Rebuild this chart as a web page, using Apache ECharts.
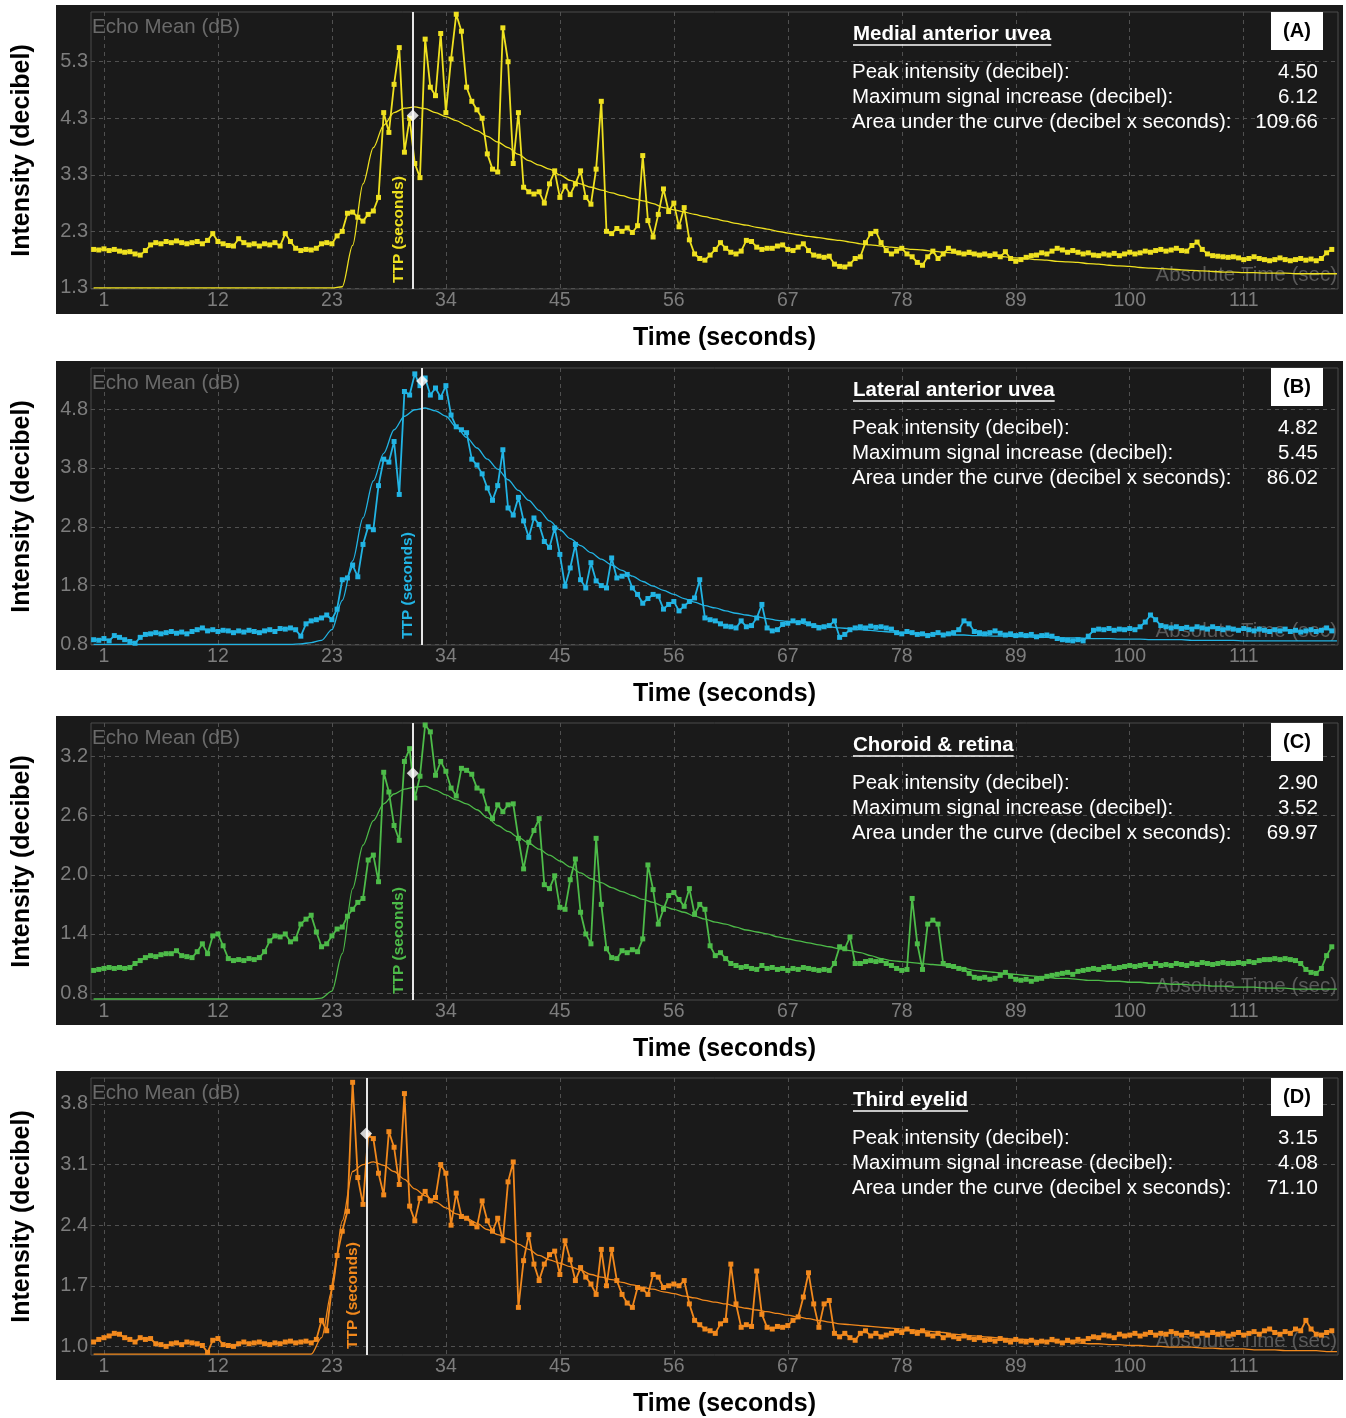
<!DOCTYPE html>
<html>
<head>
<meta charset="utf-8">
<title>Echo mean time-intensity curves</title>
<script src="https://cdn.jsdelivr.net/npm/echarts@6/dist/echarts.min.js"></script>
<style>
  html, body { margin: 0; padding: 0; background: #ffffff; }
  #chart { width: 1346px; height: 1418px; }
</style>
</head>
<body>
<div id="chart"></div>
<script>
// echo mean readings, one value every 0.5 s starting at t = 0
const SAMPLE_STEP = 0.5
// fitted curves, one value every 1 s starting at t = 0
const FIT_STEP = 1

const xTickValues = [1, 12, 23, 34, 45, 56, 67, 78, 89, 100, 111]

const medialData = [
  1.98,1.97,1.99,1.96,1.98,1.95,1.93,1.94,1.90,1.88,1.96,2.06,2.10,2.08,2.12,2.10,2.13,2.10,2.08,2.10,
  2.12,2.08,2.14,2.26,2.12,2.08,2.05,2.04,2.17,2.10,2.06,2.08,2.04,2.08,2.06,2.10,2.04,2.26,2.12,2.00,
  1.96,1.98,1.97,2.00,2.08,2.10,2.08,2.22,2.30,2.62,2.64,2.55,2.48,2.60,2.66,2.90,4.40,4.05,4.90,5.55,
  3.70,4.30,3.50,3.25,5.70,4.85,4.70,5.80,4.40,5.35,6.14,5.84,4.85,4.60,4.45,4.30,3.67,3.40,3.35,5.90,
  5.30,3.50,4.40,3.08,3.00,2.96,3.00,2.80,3.14,3.37,2.90,3.10,2.95,3.14,3.37,2.90,2.78,3.40,4.60,2.30,
  2.26,2.35,2.30,2.36,2.28,2.40,3.64,2.49,2.20,2.60,3.05,2.65,2.80,2.38,2.72,2.15,1.90,1.82,1.79,1.88,
  1.98,2.10,2.00,1.93,1.90,1.95,2.14,2.12,2.02,1.98,2.00,2.00,2.04,2.06,1.98,1.96,2.02,2.08,1.96,1.88,
  1.86,1.84,1.86,1.72,1.68,1.67,1.72,1.82,1.85,2.10,2.26,2.30,2.10,1.96,1.90,1.95,2.00,1.90,1.85,1.75,
  1.70,1.85,1.95,1.82,1.90,2.00,1.95,1.92,1.90,1.93,1.90,1.88,1.90,1.87,1.90,1.85,1.94,1.82,1.77,1.80,
  1.84,1.87,1.88,1.92,1.90,1.95,2.00,1.97,1.93,1.96,1.93,1.90,1.92,1.88,1.87,1.90,1.88,1.91,1.87,1.90,
  1.93,1.90,1.92,1.95,1.93,1.96,1.98,1.95,1.97,2.00,1.96,1.95,2.05,2.11,1.98,1.90,1.87,1.86,1.85,1.84,
  1.85,1.83,1.80,1.82,1.85,1.82,1.80,1.78,1.80,1.83,1.80,1.78,1.80,1.82,1.79,1.81,1.78,1.82,1.92,1.98
]
const medialFit = [
  1.30,1.30,1.30,1.30,1.30,1.30,1.30,1.30,1.30,1.30,
  1.30,1.30,1.30,1.30,1.30,1.30,1.30,1.30,1.30,1.30,
  1.30,1.30,1.30,1.30,1.32,2.05,3.14,3.78,4.18,4.40,
  4.48,4.50,4.47,4.40,4.33,4.26,4.17,4.08,3.98,3.88,
  3.78,3.66,3.55,3.47,3.40,3.30,3.20,3.14,3.08,3.03,
  2.98,2.93,2.88,2.84,2.79,2.72,2.68,2.64,2.60,2.56,
  2.52,2.48,2.44,2.41,2.37,2.34,2.30,2.27,2.24,2.21,
  2.19,2.16,2.14,2.11,2.08,2.06,2.04,2.02,2.00,1.98,
  1.97,1.95,1.93,1.92,1.90,1.89,1.87,1.86,1.85,1.83,
  1.82,1.80,1.79,1.77,1.76,1.75,1.73,1.72,1.70,1.69,
  1.68,1.66,1.65,1.64,1.63,1.62,1.61,1.60,1.59,1.58,
  1.58,1.57,1.57,1.56,1.56,1.56,1.55,1.55,1.55,1.55,
  1.55
]

const lateralData = [
  0.88,0.87,0.90,0.86,0.95,0.92,0.88,0.85,0.82,0.92,0.97,0.98,1.00,0.98,1.00,1.02,0.99,1.01,0.98,1.02,
  1.05,1.08,1.03,1.05,1.02,1.04,1.03,1.00,1.03,1.01,1.04,1.02,1.00,1.03,1.05,1.02,1.07,1.06,1.08,1.05,
  0.94,1.15,1.20,1.22,1.25,1.30,1.22,1.40,1.90,1.93,2.15,1.95,2.50,2.80,2.75,3.50,3.95,3.90,4.25,3.35,
  5.10,5.04,5.40,5.20,5.33,5.04,5.16,5.00,5.20,4.70,4.50,4.45,4.40,3.95,3.85,3.70,3.46,3.25,3.50,4.11,
  3.12,3.00,3.30,2.90,2.62,2.95,2.84,2.55,2.45,2.78,2.33,1.79,2.10,2.50,1.90,1.76,2.19,1.88,1.80,1.76,
  2.27,1.93,1.96,1.99,1.76,1.65,1.50,1.58,1.65,1.62,1.40,1.48,1.53,1.37,1.45,1.53,1.59,1.90,1.25,1.22,
  1.20,1.15,1.11,1.10,1.08,1.20,1.10,1.12,1.25,1.48,1.08,1.03,1.05,1.14,1.16,1.20,1.17,1.20,1.15,1.12,
  1.08,1.10,1.12,1.20,0.92,0.97,1.05,1.08,1.10,1.08,1.11,1.09,1.10,1.08,1.06,1.00,0.98,1.02,1.00,0.97,
  0.98,0.95,0.97,1.00,0.96,0.98,1.00,1.05,1.20,1.15,1.02,1.00,0.98,1.00,1.03,0.99,0.96,0.98,0.95,0.97,
  0.95,0.97,0.93,0.95,0.96,0.94,0.90,0.88,0.87,0.86,0.88,0.86,0.94,1.04,1.06,1.05,1.07,1.04,1.06,1.05,
  1.07,1.05,1.10,1.18,1.30,1.22,1.12,1.10,1.08,1.10,1.07,1.09,1.06,1.10,1.08,1.06,1.10,1.07,1.05,1.08,
  1.06,1.04,1.07,1.05,1.03,1.06,1.04,1.02,1.05,1.03,1.06,1.02,1.04,1.01,1.03,1.05,1.02,1.04,1.08,1.03
]
const lateralFit = [
  0.80,0.80,0.80,0.80,0.80,0.80,0.80,0.80,0.80,0.80,
  0.80,0.80,0.80,0.80,0.80,0.80,0.80,0.80,0.80,0.80,
  0.81,0.83,0.87,1.05,1.55,2.22,2.95,3.58,4.05,4.45,
  4.68,4.79,4.82,4.77,4.68,4.50,4.32,4.14,3.95,3.78,
  3.60,3.42,3.25,3.08,2.90,2.75,2.60,2.48,2.36,2.25,
  2.15,2.06,1.96,1.87,1.79,1.72,1.65,1.58,1.52,1.46,
  1.42,1.37,1.33,1.30,1.27,1.24,1.21,1.19,1.17,1.14,
  1.12,1.10,1.08,1.07,1.05,1.04,1.02,1.01,1.00,0.99,
  0.98,0.97,0.97,0.96,0.96,0.95,0.95,0.94,0.94,0.93,
  0.93,0.92,0.92,0.91,0.91,0.91,0.90,0.90,0.90,0.89,
  0.89,0.89,0.88,0.88,0.88,0.88,0.87,0.87,0.87,0.87,
  0.87,0.86,0.86,0.86,0.86,0.86,0.86,0.86,0.86,0.86,
  0.86
]

const choroidData = [
  1.03,1.04,1.05,1.06,1.05,1.06,1.05,1.06,1.10,1.13,1.16,1.18,1.17,1.19,1.20,1.20,1.23,1.18,1.17,1.16,
  1.22,1.30,1.20,1.38,1.40,1.28,1.15,1.13,1.14,1.13,1.15,1.14,1.16,1.22,1.33,1.38,1.37,1.40,1.32,1.35,
  1.50,1.55,1.59,1.42,1.27,1.30,1.38,1.45,1.47,1.58,1.65,1.72,1.76,2.15,2.20,1.93,3.04,2.84,2.50,2.35,
  3.15,3.28,2.78,3.00,3.52,3.45,3.01,3.15,3.05,2.88,2.80,3.08,3.06,3.02,2.88,2.85,2.67,2.57,2.71,2.64,
  2.71,2.72,2.37,2.06,2.33,2.45,2.57,1.90,1.86,1.99,1.67,1.65,1.95,2.16,1.62,1.40,1.30,2.37,1.70,1.25,
  1.16,1.15,1.23,1.21,1.24,1.22,1.35,2.10,1.85,1.50,1.65,1.79,1.82,1.75,1.68,1.86,1.60,1.70,1.65,1.28,
  1.18,1.21,1.15,1.10,1.08,1.06,1.07,1.05,1.04,1.08,1.05,1.06,1.04,1.05,1.03,1.05,1.04,1.06,1.05,1.04,
  1.03,1.04,1.03,1.10,1.27,1.25,1.37,1.10,1.10,1.12,1.13,1.12,1.13,1.10,1.08,1.05,1.03,1.04,1.76,1.30,
  1.04,1.50,1.54,1.50,1.10,1.08,1.07,1.05,1.04,1.00,0.96,0.95,0.96,0.94,0.95,0.98,1.01,0.97,0.94,0.93,
  0.94,0.92,0.94,0.95,0.97,0.98,0.99,1.00,1.01,0.99,1.02,1.03,1.04,1.05,1.04,1.06,1.07,1.05,1.06,1.07,
  1.08,1.07,1.08,1.09,1.07,1.10,1.08,1.09,1.08,1.10,1.09,1.08,1.10,1.09,1.11,1.10,1.09,1.10,1.11,1.10,
  1.10,1.11,1.10,1.12,1.11,1.13,1.14,1.14,1.15,1.14,1.15,1.14,1.13,1.10,1.04,1.01,1.00,1.05,1.18,1.27
]
const choroidFit = [
  0.74,0.74,0.74,0.74,0.74,0.74,0.74,0.74,0.74,0.74,
  0.74,0.74,0.74,0.74,0.74,0.74,0.74,0.74,0.74,0.74,
  0.74,0.74,0.75,0.82,1.20,1.86,2.30,2.55,2.72,2.82,
  2.87,2.89,2.90,2.86,2.81,2.76,2.72,2.66,2.58,2.50,
  2.44,2.38,2.32,2.26,2.20,2.14,2.08,2.02,1.96,1.92,
  1.87,1.83,1.79,1.75,1.72,1.68,1.65,1.62,1.58,1.55,
  1.52,1.50,1.47,1.44,1.42,1.40,1.37,1.35,1.33,1.31,
  1.29,1.27,1.25,1.23,1.21,1.18,1.15,1.13,1.12,1.11,
  1.10,1.09,1.08,1.06,1.05,1.03,1.02,1.01,1.00,0.99,
  0.98,0.97,0.96,0.95,0.95,0.94,0.93,0.93,0.92,0.92,
  0.91,0.91,0.90,0.90,0.89,0.89,0.88,0.88,0.87,0.87,
  0.86,0.86,0.86,0.85,0.85,0.85,0.84,0.84,0.84,0.84,
  0.84
]

const eyelidData = [
  1.05,1.08,1.10,1.12,1.15,1.14,1.10,1.08,1.05,1.10,1.08,1.09,1.03,1.02,1.00,1.03,1.04,1.02,1.05,1.04,
  1.03,1.01,0.93,1.07,1.09,1.02,1.01,1.00,1.03,1.05,1.03,1.04,1.05,1.03,1.02,1.04,1.03,1.05,1.06,1.04,
  1.05,1.06,1.04,1.08,1.30,1.18,1.68,2.05,2.33,2.56,4.05,2.95,2.64,3.44,3.40,3.00,2.75,3.48,3.30,2.87,
  3.92,2.62,2.45,2.71,2.79,2.68,2.72,3.10,3.00,2.40,2.77,2.50,2.48,2.42,2.38,2.68,2.45,2.33,2.48,2.22,
  2.90,3.13,1.45,1.99,2.29,1.95,1.76,1.95,2.06,2.10,1.83,2.22,2.00,1.76,1.91,1.80,1.72,1.60,2.12,1.70,
  2.12,1.76,1.60,1.50,1.45,1.68,1.66,1.60,1.83,1.80,1.68,1.70,1.72,1.70,1.76,1.49,1.30,1.25,1.20,1.18,
  1.15,1.26,1.30,1.95,1.49,1.22,1.25,1.23,1.87,1.37,1.22,1.20,1.23,1.22,1.24,1.30,1.34,1.57,1.85,1.49,
  1.22,1.49,1.53,1.15,1.11,1.15,1.10,1.07,1.15,1.18,1.12,1.15,1.11,1.13,1.15,1.18,1.16,1.20,1.17,1.15,
  1.18,1.14,1.12,1.15,1.10,1.13,1.11,1.09,1.12,1.10,1.08,1.10,1.07,1.08,1.06,1.09,1.07,1.05,1.08,1.06,
  1.05,1.07,1.04,1.06,1.05,1.08,1.06,1.04,1.07,1.05,1.08,1.06,1.09,1.11,1.10,1.13,1.12,1.10,1.14,1.12,
  1.13,1.15,1.12,1.14,1.16,1.13,1.15,1.14,1.17,1.15,1.13,1.16,1.14,1.12,1.15,1.13,1.16,1.14,1.15,1.12,
  1.14,1.16,1.13,1.15,1.17,1.14,1.18,1.20,1.16,1.14,1.17,1.15,1.20,1.18,1.30,1.20,1.14,1.13,1.16,1.18
]
const eyelidFit = [
  0.91,0.91,0.91,0.91,0.91,0.91,0.91,0.91,0.91,0.91,
  0.91,0.91,0.91,0.91,0.91,0.91,0.91,0.91,0.91,0.91,
  0.91,0.91,1.10,1.65,2.45,3.02,3.10,3.13,3.09,3.02,
  2.93,2.82,2.74,2.67,2.60,2.53,2.48,2.42,2.35,2.29,
  2.24,2.18,2.12,2.05,2.00,1.96,1.92,1.88,1.83,1.80,
  1.77,1.74,1.71,1.68,1.66,1.63,1.61,1.58,1.56,1.53,
  1.51,1.49,1.46,1.44,1.42,1.40,1.38,1.36,1.34,1.32,
  1.30,1.28,1.26,1.25,1.24,1.23,1.22,1.21,1.20,1.19,
  1.18,1.17,1.16,1.14,1.13,1.12,1.11,1.10,1.09,1.08,
  1.08,1.07,1.06,1.05,1.05,1.04,1.03,1.03,1.02,1.02,
  1.01,1.01,1.00,1.00,0.99,0.99,0.99,0.98,0.98,0.97,
  0.97,0.97,0.96,0.96,0.96,0.95,0.95,0.95,0.95,0.94,
  0.94
]

const statLabels = [
  'Peak intensity (decibel):',
  'Maximum signal increase (decibel):',
  'Area under the curve (decibel x seconds):'
]

const panels = [
  { title: 'Medial anterior uvea', letter: '(A)', color: '#efe120', data: medialData, fit: medialFit,
    yMin: 1.28, yMax: 6.18, yTicks: [1.3, 2.3, 3.3, 4.3, 5.3], ttp: 30.8, peak: [30.8, 4.35],
    stats: ['4.50', '6.12', '109.66'] },
  { title: 'Lateral anterior uvea', letter: '(B)', color: '#22b4e4', data: lateralData, fit: lateralFit,
    yMin: 0.79, yMax: 5.5, yTicks: [0.8, 1.8, 2.8, 3.8, 4.8], ttp: 31.7, peak: [31.7, 5.28],
    stats: ['4.82', '5.45', '86.02'] },
  { title: 'Choroid & retina', letter: '(C)', color: '#4dbb49', data: choroidData, fit: choroidFit,
    yMin: 0.73, yMax: 3.54, yTicks: [0.8, 1.4, 2.0, 2.6, 3.2], ttp: 30.8, peak: [30.8, 3.03],
    stats: ['2.90', '3.52', '69.97'] },
  { title: 'Third eyelid', letter: '(D)', color: '#f2891d', data: eyelidData, fit: eyelidFit,
    yMin: 0.9, yMax: 4.1, yTicks: [1.0, 1.7, 2.4, 3.1, 3.8], ttp: 26.35, peak: [26.3, 3.46],
    stats: ['3.15', '4.08', '71.10'] }
]

const panelTops = [5, 361, 716, 1071]
const FONT = '"Liberation Sans", Arial, Helvetica, sans-serif'
const LABEL_GREY = '#7d7d7d'

const timeSec = medialData.map((_, i) => i * SAMPLE_STEP)
const fitTimeSec = medialFit.map((_, i) => i * FIT_STEP)

function pairs(xs, ys) {
  return ys.map((y, i) => [xs[i], y])
}

const measureCtx = document.createElement('canvas').getContext('2d')
function textWidth(text, font) {
  measureCtx.font = font
  return measureCtx.measureText(text).width
}

const grids = []
const xAxes = []
const yAxes = []
const series = []
const graphics = []

panels.forEach((p, i) => {
  const top = panelTops[i]
  grids.push({
    left: 91, width: 1247, top: top + 7, height: 277,
    show: true, borderColor: '#4a4a4a', borderWidth: 1, backgroundColor: 'transparent'
  })
  xAxes.push({
    gridIndex: i, type: 'value', min: -0.25, max: 120.1,
    axisLine: { show: false },
    axisTick: { show: false, customValues: xTickValues },
    axisLabel: { customValues: xTickValues, color: LABEL_GREY, fontSize: 19.5, fontFamily: FONT, margin: 2 },
    splitLine: { show: true, lineStyle: { color: '#505050', type: [4, 4], width: 1 } },
    name: 'Time (seconds)', nameLocation: 'middle', nameGap: 37,
    nameTextStyle: { color: '#000', fontSize: 25, fontWeight: 'bold', fontFamily: FONT, padding: [0, 0, 0, 20] }
  })
  yAxes.push({
    gridIndex: i, type: 'value', min: p.yMin, max: p.yMax,
    axisLine: { show: false },
    axisTick: { show: false, customValues: p.yTicks },
    axisLabel: {
      customValues: p.yTicks, color: LABEL_GREY, fontSize: 20, fontFamily: FONT, margin: 3,
      formatter: v => v.toFixed(1)
    },
    splitLine: { show: true, lineStyle: { color: '#505050', type: [4, 4], width: 1 } },
    name: 'Intensity (decibel)', nameLocation: 'middle', nameGap: 56,
    nameTextStyle: { color: '#000', fontSize: 25, fontWeight: 'bold', fontFamily: FONT }
  })

  series.push({
    type: 'line', xAxisIndex: i, yAxisIndex: i, z: 3,
    data: pairs(timeSec, p.data),
    symbol: 'rect', symbolSize: 5, showSymbol: true,
    lineStyle: { color: p.color, width: 1.8 },
    itemStyle: { color: p.color }
  })
  series.push({
    type: 'line', xAxisIndex: i, yAxisIndex: i, z: 4,
    data: pairs(fitTimeSec, p.fit),
    smooth: 0.3, smoothMonotone: 'x', showSymbol: false, symbol: 'none',
    lineStyle: { color: p.color, width: 1.3 },
    markLine: {
      silent: true, symbol: ['none', 'none'],
      lineStyle: { color: '#e6e6e6', width: 2, type: 'solid' },
      label: {
        show: true, position: 'insideStartTop', formatter: 'TTP (seconds)',
        color: p.color, fontSize: 15.5, fontWeight: 'bold', fontFamily: FONT, distance: 6
      },
      data: [{ xAxis: p.ttp }]
    }
  })
  series.push({
    type: 'scatter', xAxisIndex: i, yAxisIndex: i, z: 6,
    data: [p.peak], symbol: 'diamond', symbolSize: 12,
    itemStyle: { color: '#ffffff' }
  })

  graphics.push(
    { type: 'rect', z: -5, shape: { x: 56, y: top, width: 1287, height: 309 }, style: { fill: '#1a1a1a' } },
    { type: 'text', z: 1, x: 92, y: top + 22,
      style: { text: 'Echo Mean (dB)', fill: '#6a6a6a', font: '20.5px ' + FONT, verticalAlign: 'middle' } },
    { type: 'text', z: 1, x: 1337, y: top + 270,
      style: { text: 'Absolute Time (sec)', fill: '#5a5a5a', font: '20.5px ' + FONT, align: 'right', verticalAlign: 'middle' } }
  )
  const titleFont = 'bold 20.5px ' + FONT
  graphics.push(
    { type: 'text', z: 20, x: 853, y: top + 29,
      style: { text: p.title, fill: '#ffffff', font: titleFont, verticalAlign: 'middle' } },
    { type: 'line', z: 20, shape: { x1: 853, y1: top + 40, x2: 853 + textWidth(p.title, titleFont), y2: top + 40 },
      style: { stroke: '#ffffff', lineWidth: 1.5 } },
    { type: 'rect', z: 20, shape: { x: 1271, y: top + 7, width: 52, height: 38 }, style: { fill: '#ffffff' } },
    { type: 'text', z: 21, x: 1297, y: top + 26,
      style: { text: p.letter, fill: '#000000', font: 'bold 20px ' + FONT, align: 'center', verticalAlign: 'middle' } }
  )
  statLabels.forEach((label, k) => {
    graphics.push(
      { type: 'text', z: 20, x: 852, y: top + 67 + k * 25,
        style: { text: label, fill: '#ffffff', font: '20.5px ' + FONT, verticalAlign: 'middle' } },
      { type: 'text', z: 20, x: 1318, y: top + 67 + k * 25,
        style: { text: p.stats[k], fill: '#ffffff', font: '20.5px ' + FONT, align: 'right', verticalAlign: 'middle' } }
    )
  })
})

const chart = echarts.init(document.getElementById('chart'), null, { renderer: 'canvas' })
chart.setOption({
  backgroundColor: '#ffffff',
  animation: false,
  textStyle: { fontFamily: FONT },
  grid: grids,
  xAxis: xAxes,
  yAxis: yAxes,
  series: series,
  graphic: graphics
})
</script>
</body>
</html>
